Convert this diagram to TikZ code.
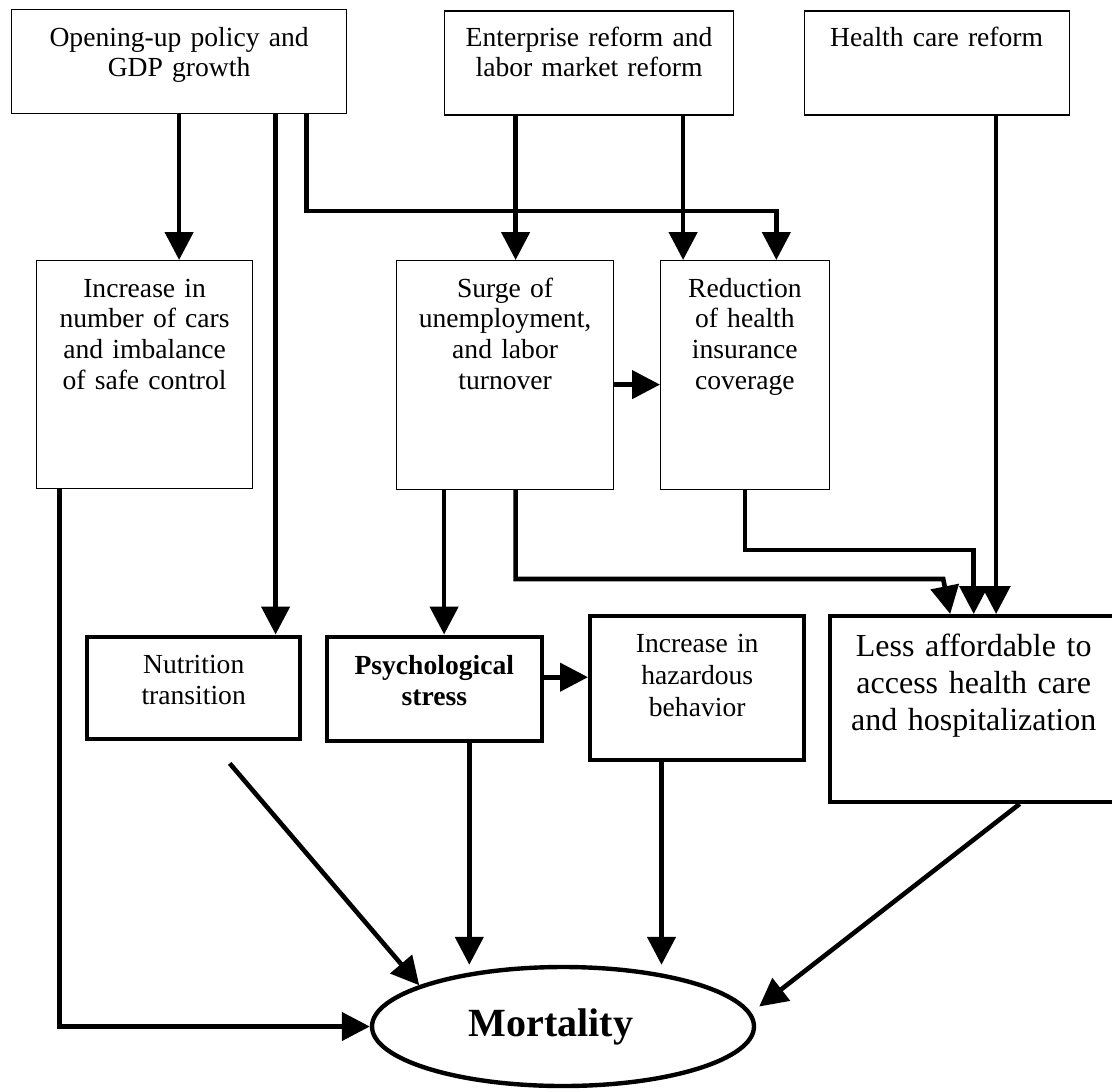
\documentclass[tikz,border=0pt]{standalone}
\usepackage{fontspec}
\setmainfont{Liberation Serif}
\usetikzlibrary{arrows.meta,calc,shapes.geometric}

\begin{document}
\begin{tikzpicture}[x=0.5pt,y=-0.5pt,
  thinbox/.style={draw,line width=0.6pt,inner sep=0pt,align=center,anchor=north west,
    font=\fontsize{13.8}{15.3}\selectfont,text height=18.3pt},
  thickbox/.style={thinbox,line width=2.2pt},
  link/.style={line width=2.3pt,-{Triangle[length=14pt,width=14pt]}}]
  \useasboundingbox (0,0) rectangle (1112,1091);

  %top row
  \node[thinbox,text width=167.5pt,text depth=33.7pt] (open) at (11,9) {Opening-up policy and\\GDP growth};
  \node[thinbox,text width=144.5pt,text height=17.5pt,text depth=34.5pt] (enter) at (444,10.5) {Enterprise reform and\\labor market reform};
  \node[thinbox,text width=132.5pt,text height=17.5pt,text depth=34.5pt] (health) at (803.5,10.5) {Health care reform};

  %middle row
  \node[thinbox,text width=108pt,text depth=95.7pt] (cars) at (36,260) {Increase in\\number of cars\\and imbalance\\of safe control};
  \node[thinbox,text width=108.5pt,text depth=96.2pt] (surge) at (396,260) {Surge of\\unemployment,\\and labor\\turnover};
  \node[thinbox,text width=84.25pt,text depth=96.2pt] (reduc) at (660,260) {Reduction\\of health\\insurance\\coverage};

  %bottom row
  \node[thickbox,text width=106.5pt,text height=18.6pt,text depth=32.65pt] (nutri) at (85,634.5) {Nutrition\\transition};
  \node[thickbox,text width=107.5pt,text height=19.1pt,text depth=32.9pt,font=\fontsize{13.8}{15.5}\selectfont\bfseries] (psych) at (324.6,634.5) {Psychological\\stress};
  \node[thickbox,text width=107pt,text depth=53.7pt,font=\fontsize{13.8}{15.8}\selectfont] (hazard) at (588,614) {Increase in\\hazardous\\behavior};
  \node[thickbox,text width=143.5pt,text height=20pt,text depth=72.75pt,font=\fontsize{16}{18.5}\selectfont] (less) at (828,614) {Less affordable to\\access health care\\and hospitalization};

  \node[draw,ellipse,line width=2.2pt,inner sep=0pt,minimum width=191pt,minimum height=59.5pt,
    font=\fontsize{20}{24}\selectfont\bfseries] (mort) at (563,1026.5) {Mortality\kern12pt};

  %from the opening-up box
  \draw[link] (open.south) -- (open.south |- cars.north);
  \coordinate (o2) at ($(open.south)+(96.5,0)$);
  \draw[link] (o2) -- (o2 |- nutri.north);
  \coordinate (o3) at ($(open.south)+(127.5,0)$);
  \coordinate (r3) at ($(reduc.north)+(31.5,0)$);
  \draw[link] (o3) |- ($(r3)+(0,-49)$) -- (r3);

  %from the two reform boxes
  \coordinate (e1) at ($(enter.south)+(-73.5,0)$);
  \draw[link] (e1) -- (e1 |- surge.north);
  \coordinate (e2) at ($(enter.south)+(94,0)$);
  \draw[link] (e2) -- (e2 |- reduc.north);
  \coordinate (h1) at ($(health.south)+(59.5,0)$);
  \draw[link] (h1) -- (h1 |- less.north);

  %unemployment and coverage
  \coordinate (s1) at ($(surge.east)+(0,9.5)$);
  \draw[link] (s1) -- (s1 -| reduc.west);
  \coordinate (s2) at ($(surge.south)+(-61,0)$);
  \draw[link] (s2) -- (s2 |- psych.north);
  \coordinate (s3) at ($(surge.south)+(10.5,0)$);
  \draw[link] (s3) |- ($(less.north)+(-30.5,-35)$) -- ($(less.north)+(-23.5,0)$);
  \draw[link] (reduc.south) |- ($(less.north)+(0,-64)$) -- (less.north);

  %into mortality
  \coordinate (p1) at ($(psych.east)+(0,-11.5)$);
  \draw[link] (p1) -- (p1 -| hazard.west);
  \coordinate (p2) at ($(psych.south)+(35,0)$);
  \draw[link] (p2) -- (p2 |- mort.north);
  \coordinate (z1) at ($(hazard.south)+(-35.7,0)$);
  \draw[link] (z1) -- (z1 |- mort.north);
  \coordinate (c1) at ($(cars.south)+(-85,0)$);
  \draw[link] (c1) |- (mort.west);
  \coordinate (n1) at ($(nutri.south)+(36,22)$);
  \draw[link] (n1) -- (mort.164);
  \coordinate (l1) at ($(less.south)+(46,0)$);
  \coordinate (l2) at ($(mort.east)+(3,-20)$);
  \draw[link] (l1) -- (l2);
\end{tikzpicture}
\end{document}
